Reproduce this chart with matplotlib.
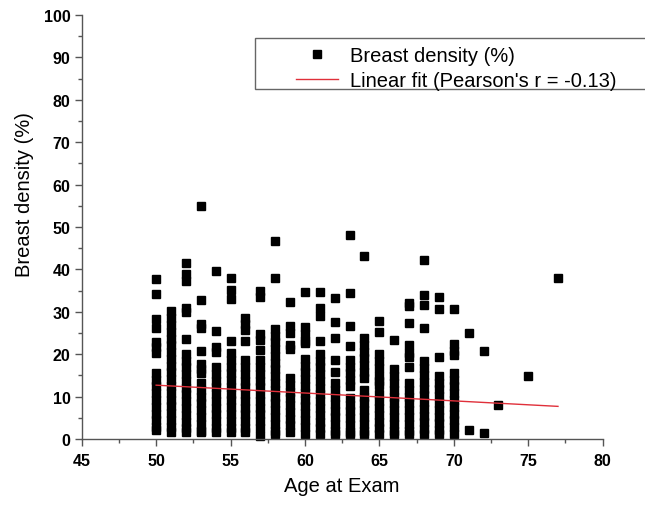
import matplotlib
matplotlib.use("Agg")
import matplotlib.pyplot as plt
from matplotlib.patches import Rectangle
from matplotlib.ticker import MultipleLocator

# =====================================================
# Data: breast density (%) per age at exam
# =====================================================

dens_50 = [37.7, 34.2, 28.3, 26.1, 22.8, 21.6, 20.4, 15.6, 14.0, 12.4, 10.8, 9.2, 7.6, 6.0, 4.4, 2.8, 2.2]
dens_51 = [30.1, 28.5, 26.9, 25.3, 23.7, 22.1, 20.5, 18.9, 17.3, 15.7, 14.1, 12.5, 10.9, 9.3, 7.7, 6.1, 4.5, 2.9, 1.6]
dens_52 = [41.5, 38.9, 37.3, 30.9, 29.9, 23.7, 20.1, 18.5, 16.9, 15.3, 13.7, 12.1, 10.5, 8.9, 7.3, 5.7, 4.1, 2.5, 1.6]
dens_53 = [55.0, 32.9, 27.2, 26.1, 20.8, 17.6, 16.5, 15.5, 13.2, 11.6, 10.0, 8.4, 6.8, 5.2, 3.6, 2.0, 1.7]
dens_54 = [39.6, 25.5, 21.7, 20.6, 17.0, 15.4, 13.8, 12.2, 10.6, 9.0, 7.4, 5.8, 4.2, 2.6, 1.6]
dens_55 = [38.0, 35.2, 33.0, 23.2, 20.3, 18.7, 17.1, 15.5, 13.9, 12.3, 10.7, 9.1, 7.5, 5.9, 4.3, 2.7, 1.6]
dens_56 = [28.5, 27.1, 25.7, 23.0, 18.6, 17.0, 15.4, 13.8, 12.2, 10.6, 9.0, 7.4, 5.8, 4.2, 2.6, 1.6]
dens_57 = [34.8, 33.6, 24.8, 23.3, 21.1, 18.6, 17.0, 15.4, 13.8, 12.2, 10.6, 9.0, 7.4, 5.8, 4.2, 2.6, 0.6]
dens_58 = [46.8, 37.9, 26.0, 24.4, 22.8, 21.2, 19.6, 18.0, 16.4, 14.8, 13.2, 11.6, 10.0, 8.4, 6.8, 5.2, 3.6, 2.0, 1.3]
dens_59 = [32.4, 26.7, 24.9, 22.2, 21.2, 14.4, 12.8, 11.2, 9.6, 8.0, 6.4, 4.8, 3.2, 1.6]
dens_60 = [34.6, 26.4, 24.8, 23.2, 22.6, 18.9, 17.3, 15.7, 14.1, 12.5, 10.9, 9.3, 7.7, 6.1, 4.5, 2.9, 1.1]
dens_61 = [34.7, 30.9, 28.9, 23.0, 20.1, 18.5, 16.9, 15.3, 13.7, 12.1, 10.5, 8.9, 7.3, 5.7, 4.1, 2.5, 1.3]
dens_62 = [33.2, 27.7, 23.8, 18.6, 15.7, 13.1, 11.5, 9.9, 8.3, 6.7, 5.1, 3.5, 1.9, 1.3]
dens_63 = [48.0, 34.4, 26.7, 22.0, 18.7, 17.1, 15.5, 13.9, 12.5, 9.7, 8.1, 6.5, 4.9, 3.3, 1.7, 1.1]
dens_64 = [43.2, 23.8, 22.2, 20.6, 19.0, 17.4, 15.8, 14.5, 11.6, 10.0, 8.4, 6.8, 5.2, 3.6, 2.0, 1.1]
dens_65 = [27.9, 25.2, 20.0, 18.4, 16.8, 14.8, 13.7, 12.7, 10.5, 8.9, 7.3, 5.7, 4.1, 2.5, 1.1]
dens_66 = [23.4, 16.4, 14.8, 13.2, 11.6, 10.0, 8.4, 6.8, 5.2, 3.6, 2.0, 1.3]
dens_67 = [32.1, 31.4, 27.3, 22.2, 20.4, 19.3, 16.9, 13.2, 11.6, 10.0, 8.4, 6.8, 5.2, 3.6, 2.0, 1.3]
dens_68 = [42.3, 34.0, 31.7, 26.1, 18.3, 16.7, 15.1, 13.5, 11.9, 10.3, 8.7, 7.1, 5.5, 3.9, 2.3, 1.3]
dens_69 = [33.4, 30.7, 19.3, 14.9, 13.3, 11.7, 10.1, 8.5, 6.9, 5.3, 3.7, 2.1, 1.3]
dens_70 = [30.7, 22.5, 20.8, 19.7, 15.6, 14.0, 12.4, 10.8, 9.2, 7.6, 6.0, 4.4, 2.8, 1.1]
dens_71 = [25.0, 2.2]
dens_72 = [20.7, 1.4]
dens_73 = [8.0]
dens_75 = [14.9]
dens_77 = [37.9]

ages = [50, 51, 52, 53, 54, 55, 56, 57, 58, 59, 60, 61, 62, 63, 64, 65, 66, 67, 68, 69, 70, 71, 72, 73, 75, 77]
columns = [dens_50, dens_51, dens_52, dens_53, dens_54, dens_55, dens_56, dens_57, dens_58, dens_59,
           dens_60, dens_61, dens_62, dens_63, dens_64, dens_65, dens_66, dens_67, dens_68, dens_69,
           dens_70, dens_71, dens_72, dens_73, dens_75, dens_77]

# Linear fit end points
fit_age = [50, 77]
fit_density = [12.7, 7.7]

x_all = []
y_all = []
for age, vals in zip(ages, columns):
    x_all += [age] * len(vals)
    y_all += vals

# =====================================================
# Plot
# =====================================================

plt.rcParams["font.family"] = ["Liberation Sans", "DejaVu Sans"]

fig = plt.figure(figsize=(6.45, 5.06), dpi=100)
ax = fig.add_axes([0.1267, 0.1304, 0.8076, 0.838])

pts, = ax.plot(x_all, y_all, linestyle="None", marker="s", markersize=5.8,
               color="black", clip_on=False, label="Breast density (%)")
fit, = ax.plot(fit_age, fit_density, color="#e0303a", linewidth=1.0,
               label="Linear fit (Pearson's r = -0.13)")

ax.set_xlim(45, 80)
ax.set_ylim(0, 100)
ax.xaxis.set_major_locator(MultipleLocator(5))
ax.xaxis.set_minor_locator(MultipleLocator(2.5))
ax.yaxis.set_major_locator(MultipleLocator(10))
ax.yaxis.set_minor_locator(MultipleLocator(5))

for side in ["top", "right"]:
    ax.spines[side].set_visible(False)
for side in ["left", "bottom"]:
    ax.spines[side].set_color("#555555")
    ax.spines[side].set_linewidth(1.0)

ax.tick_params(which="major", direction="out", length=5, width=1, color="#555555",
               labelsize=11.5, pad=3)
ax.tick_params(which="minor", direction="out", length=2.7, width=1, color="#555555")
for lab in ax.get_xticklabels() + ax.get_yticklabels():
    lab.set_fontweight("bold")
ax.tick_params(axis="x", pad=5)

ax.set_xlabel("Age at Exam", fontsize=14.5, labelpad=6)
ax.set_ylabel("Breast density (%)", fontsize=14.5)
ax.yaxis.set_label_coords(-0.092, 0.58)

# Legend box (runs off the right edge like the original)
fig.add_artist(Rectangle((255 / 645, 1 - 90 / 506), 0.7, 51 / 506,
                         transform=fig.transFigure, facecolor="white",
                         edgecolor="#666666", linewidth=1.0, clip_on=False))

fig.legend(handles=[pts, fit], loc="upper left",
           bbox_to_anchor=(296 / 645, 1 - 47 / 506),
           frameon=False, fontsize=14.5, borderpad=0, borderaxespad=0,
           handlelength=2.1, handletextpad=0.6, labelspacing=0.28,
           markerscale=0.9)

fig.savefig("out.png", dpi=100)
